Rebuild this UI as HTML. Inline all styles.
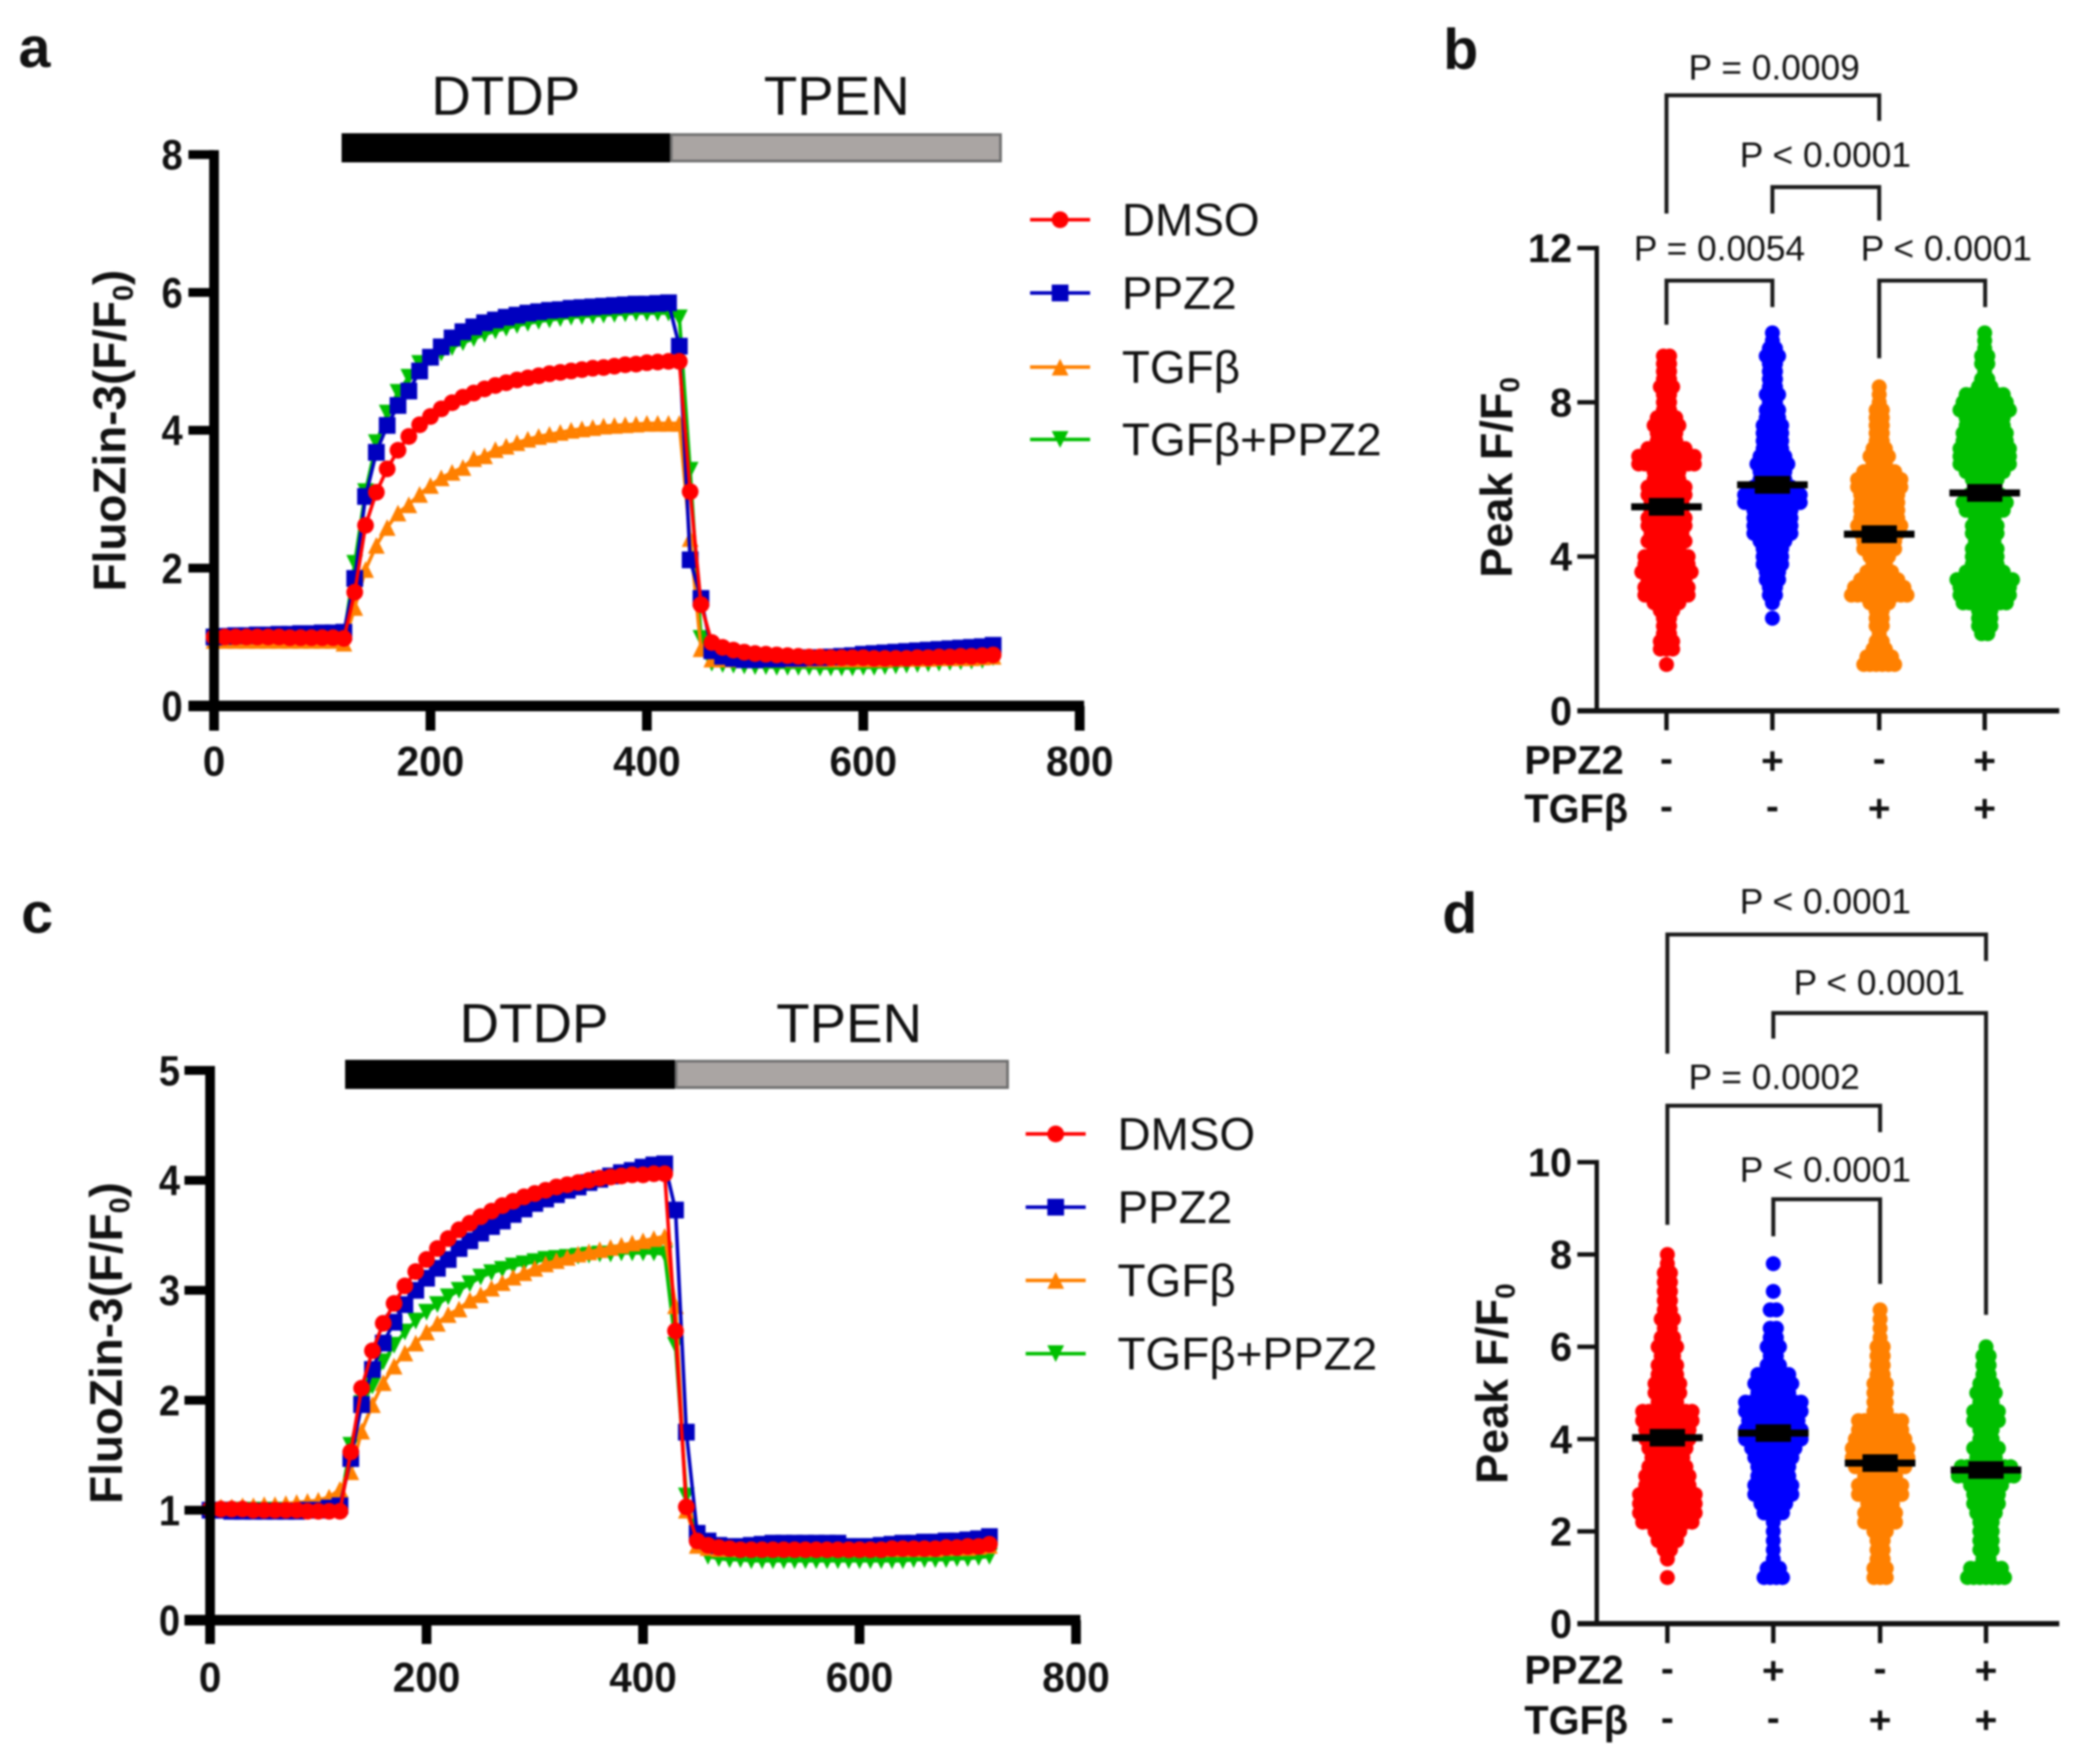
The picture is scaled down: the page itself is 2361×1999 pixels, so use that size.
<!DOCTYPE html>
<html lang="en">
<head>
<meta charset="utf-8">
<title>FluoZin-3 time courses and peak F/F0</title>
<style>
html,body{margin:0;padding:0;background:#fff;width:2361px;height:1999px;overflow:hidden}
#figure{display:block;filter:blur(1px)}
text{font-family:"Liberation Sans",sans-serif;fill:#111}
.b{font-weight:bold}
</style>
</head>
<body>
<svg id="figure" xmlns="http://www.w3.org/2000/svg" width="2361" height="1999" viewBox="0 0 2361 1999"></svg>
<script>
// ---------- shared categories ----------
const timePoints = [0,10,20,30,40,50,60,70,80,90,100,110,120,130,140,150,160,170,180,190,200,210,220,230,240,250,260,270,280,290,300,310,320,330,340,350,360,370,380,390,400,410,420,430,440,450,460,470,480,490,500,510,520,530,540,550,560,570,580,590,600,610,620,630,640,650,660,670,680,690,700,710,720];
const xTickLabels = [0,200,400,600,800];
const yTickLabelsA = [0,2,4,6,8];
const yTickLabelsC = [0,1,2,3,4,5];
const yTickLabelsB = [0,4,8,12];
const yTickLabelsD = [0,2,4,6,8,10];
const seriesNames = ['DMSO','PPZ2','TGFβ','TGFβ+PPZ2'];
const ppz2Signs = ['-','+','-','+'];
const tgfSigns = ['-','-','+','+'];

// ---------- panel a values ----------
const aDmso = [1,1,1,1,1,1,1,.99,.99,.99,.99,.99,.98,1.65,2.62,3.10,3.44,3.71,3.91,4.08,4.20,4.31,4.40,4.48,4.54,4.60,4.65,4.69,4.73,4.76,4.79,4.82,4.84,4.86,4.88,4.90,4.91,4.93,4.95,4.96,4.98,4.99,5.00,5.00,3.11,1.47,.92,.85,.81,.78,.76,.75,.74,.73,.72,.71,.71,.70,.70,.70,.70,.69,.69,.69,.69,.70,.70,.71,.71,.72,.72,.73,.74];
const aPpz2 = [1.00,1.01,1.02,1.02,1.03,1.03,1.04,1.04,1.05,1.05,1.06,1.06,1.07,1.85,3.04,3.68,4.07,4.36,4.57,4.86,5.06,5.21,5.34,5.43,5.50,5.56,5.60,5.64,5.67,5.70,5.72,5.74,5.75,5.77,5.78,5.79,5.80,5.81,5.82,5.83,5.83,5.84,5.85,5.22,2.12,1.56,.80,.72,.69,.67,.67,.68,.68,.69,.69,.70,.70,.71,.72,.73,.75,.76,.77,.78,.79,.80,.81,.82,.83,.84,.85,.86,.88];
const aTgf = [.95,.95,.95,.95,.95,.95,.95,.95,.95,.95,.95,.95,.91,1.43,1.98,2.33,2.59,2.80,2.92,3.07,3.20,3.31,3.39,3.46,3.59,3.63,3.72,3.77,3.82,3.87,3.91,3.94,3.97,4.00,4.02,4.04,4.06,4.07,4.08,4.09,4.10,4.10,4.10,4.10,2.43,.83,.68,.68,.68,.68,.68,.68,.68,.68,.68,.68,.68,.68,.68,.68,.68,.68,.68,.69,.69,.69,.69,.70,.70,.70,.70,.71,.72];
const aTgfPpz2 = [1,1,1.01,1.01,1.01,1.01,1.01,1,1,1,1,1,1,2.07,3.11,3.82,4.25,4.55,4.77,4.97,5.05,5.12,5.20,5.27,5.33,5.39,5.44,5.48,5.52,5.55,5.58,5.60,5.62,5.64,5.65,5.66,5.67,5.68,5.69,5.70,5.70,5.70,5.70,5.63,3.42,.98,.62,.60,.59,.58,.57,.57,.56,.56,.56,.56,.55,.55,.55,.55,.56,.56,.57,.58,.59,.60,.61,.62,.63,.64,.65,.66,.70];

// ---------- panel c values ----------
const cDmso = [1.01,1.01,1.01,1.01,1,1,1,1,1,.99,.99,.99,.99,1.53,2.11,2.45,2.70,2.88,3.04,3.17,3.28,3.38,3.47,3.55,3.61,3.67,3.72,3.77,3.81,3.85,3.88,3.91,3.94,3.96,3.98,4.00,4.02,4.03,4.04,4.05,4.05,4.06,4.06,2.63,1.03,.72,.68,.66,.65,.64,.64,.64,.64,.64,.64,.64,.64,.64,.64,.64,.64,.64,.64,.65,.65,.65,.65,.65,.66,.66,.67,.67,.69];
const cPpz2 = [1,1,.99,.99,.99,.99,.99,.99,.99,1,1,1.02,1.04,1.47,1.96,2.28,2.52,2.71,2.87,3.00,3.11,3.20,3.28,3.38,3.45,3.52,3.58,3.63,3.69,3.74,3.79,3.83,3.87,3.91,3.94,3.98,4.01,4.04,4.07,4.09,4.12,4.14,4.15,3.73,1.71,.79,.72,.68,.67,.67,.68,.69,.70,.70,.70,.70,.70,.70,.70,.67,.67,.67,.68,.69,.70,.70,.71,.71,.72,.72,.73,.74,.76];
const cTgf = [1.02,1.03,1.03,1.04,1.04,1.05,1.05,1.06,1.07,1.08,1.09,1.12,1.19,1.35,1.72,1.96,2.16,2.31,2.43,2.52,2.62,2.70,2.78,2.83,2.91,2.96,3.02,3.07,3.12,3.16,3.20,3.24,3.27,3.30,3.33,3.35,3.37,3.39,3.41,3.43,3.45,3.47,3.49,2.86,1.00,.68,.66,.65,.65,.65,.65,.65,.65,.65,.65,.65,.65,.65,.65,.65,.65,.65,.65,.65,.65,.65,.65,.65,.66,.66,.66,.67,.68];
const cTgfPpz2 = [1,1,1,1,1,1,1,1,1,1,1,1.02,1.05,1.59,1.97,2.13,2.35,2.50,2.62,2.72,2.80,2.87,2.94,3.00,3.06,3.12,3.16,3.19,3.22,3.24,3.26,3.28,3.29,3.30,3.31,3.32,3.33,3.33,3.34,3.34,3.34,3.34,3.33,2.50,1.13,.75,.58,.56,.55,.55,.54,.54,.54,.54,.54,.54,.54,.54,.54,.54,.54,.54,.54,.54,.54,.55,.55,.55,.55,.56,.56,.57,.58];

// ---------- panel b values: peak level and number of cells at that level ----------
const bLevels = [9.8,9.6,9.4,9.2,9.0,8.8,8.6,8.4,8.2,8.0,7.8,7.6,7.4,7.2,7.0,6.8,6.6,6.4,6.2,6.0,5.8,5.6,5.4,5.2,5.0,4.8,4.6,4.4,4.2,4.0,3.8,3.6,3.4,3.2,3.0,2.8,2.6,2.4,2.2,2.0,1.8,1.6,1.4,1.2];
const bCountsDmso = [0,0,0,2,2,2,2,3,2,2,2,4,5,4,4,7,10,10,5,5,7,7,6,6,7,7,6,7,5,8,8,9,7,8,8,5,3,2,2,2,3,3,0,1];
const bCountsPpz2 = [1,1,2,3,2,2,2,2,3,2,3,3,4,4,4,4,5,6,5,5,7,10,10,7,7,7,7,5,4,4,4,3,3,2,2,1,0,1,0,0,0,0,0,0];
const bCountsTgf = [0,0,0,0,0,0,0,1,1,1,2,2,2,2,2,3,4,3,6,8,8,7,7,7,7,8,7,6,6,4,3,5,7,9,10,4,2,2,2,1,2,3,5,6];
const bCountsTgfPpz2 = [1,1,1,2,2,1,2,3,7,8,9,7,7,8,8,9,9,9,7,5,4,6,8,7,4,5,5,4,5,5,5,7,10,9,9,8,3,3,3,2,0,0,0,0];
const bMeans = [5.29,5.86,4.58,5.65];
const bSems = [0.23,0.23,0.23,0.23];

// ---------- panel d values ----------
const dLevels = [8.0,7.8,7.6,7.4,7.2,7.0,6.8,6.6,6.4,6.2,6.0,5.8,5.6,5.4,5.2,5.0,4.8,4.6,4.4,4.2,4.0,3.8,3.6,3.4,3.2,3.0,2.8,2.6,2.4,2.2,2.0,1.8,1.6,1.4,1.2,1.0];
const dCountsDmso = [1,1,2,2,2,2,2,3,2,3,4,3,4,4,5,5,4,9,9,8,8,7,6,7,8,8,10,10,10,9,5,4,2,1,0,1];
const dCountsPpz2 = [0,1,0,0,1,0,2,0,2,2,3,2,3,6,7,6,10,10,9,10,10,8,7,6,6,7,7,5,4,1,1,1,1,1,3,4];
const dCountsTgf = [0,0,0,0,0,0,1,1,1,1,2,2,2,2,3,3,3,3,8,8,9,10,10,9,6,8,8,5,6,6,3,2,2,2,3,3];
const dCountsTgfPpz2 = [0,0,0,0,0,0,0,0,0,0,1,2,2,2,3,4,3,5,5,3,3,5,4,9,10,6,5,5,4,3,3,3,3,2,6,7];
const dMeans = [4.03,4.13,3.48,3.33];
const dSems = [0.19,0.19,0.19,0.19];

// ---------- drawing helpers ----------
const svg = document.getElementById('figure');
const NS = 'http://www.w3.org/2000/svg';

function add(tag, name, interactable, attrs, parent) {
  const el = document.createElementNS(NS, tag);
  
  
  for (const k in attrs) el.setAttribute(k, attrs[k]);
  (parent || svg).appendChild(el);
  return el;
}
function label(name, str, x, y, size, anchor, bold, parent) {
  const el = add('text', name, 'false', {x: x, y: y, 'font-size': size, 'text-anchor': anchor || 'start'}, parent);
  if (bold) el.setAttribute('class', 'b');
  el.textContent = str;
  return el;
}
function rotatedTitle(name, main, sub, x, y, size) {
  const el = add('text', name, 'false', {transform: 'translate(' + x + ',' + y + ') rotate(-90)', 'font-size': size, 'text-anchor': 'middle', 'class': 'b'});
  const a = document.createElementNS(NS, 'tspan');
  a.textContent = main;
  el.appendChild(a);
  const s = document.createElementNS(NS, 'tspan');
  s.setAttribute('font-size', size * 0.62);
  s.setAttribute('dy', size * 0.16);
  s.textContent = sub[0];
  el.appendChild(s);
  if (sub[1]) {
    const c = document.createElementNS(NS, 'tspan');
    c.setAttribute('dy', -size * 0.16);
    c.textContent = sub[1];
    el.appendChild(c);
  }
  return el;
}
function marker(kind, name, cx, cy, color, parent) {
  const s = 9.5;
  if (kind === 'circle') return add('circle', name, 'false', {cx: cx, cy: cy, r: s, fill: color}, parent);
  if (kind === 'square') return add('rect', name, 'false', {x: cx - s, y: cy - s, width: 2 * s, height: 2 * s, fill: color}, parent);
  if (kind === 'up') return add('polygon', name, 'false', {points: (cx - s) + ',' + (cy + s) + ' ' + (cx + s) + ',' + (cy + s) + ' ' + cx + ',' + (cy - s), fill: color}, parent);
  return add('polygon', name, 'false', {points: (cx - s) + ',' + (cy - s) + ' ' + (cx + s) + ',' + (cy - s) + ' ' + cx + ',' + (cy + s), fill: color}, parent);
}

// ---------- time course panels ----------
function timeCourse(cfg) {
  const xAt = function (t) { return cfg.x0 + (t - 0) * cfg.pxPerSec; };
  const yAt = function (v) { return cfg.y0 - v * cfg.pxPerUnit; };
  const g = add('g', cfg.id + '-time-course-chart', 'false', {});

  add('rect', cfg.id + '-dtdp-bar', 'false', {x: cfg.barX0, y: cfg.barY, width: cfg.barX1 - cfg.barX0, height: 33, fill: '#000'}, g);
  add('rect', cfg.id + '-tpen-bar', 'false', {x: cfg.barX1 + 1.5, y: cfg.barY + 1.5, width: cfg.barX2 - cfg.barX1 - 3, height: 30, fill: '#aaa5a3', stroke: '#6e6e6e', 'stroke-width': 3}, g);
  label(cfg.id + '-dtdp-label', 'DTDP', cfg.dtdpX, cfg.labelY, 62, 'middle', false, g);
  label(cfg.id + '-tpen-label', 'TPEN', cfg.tpenX, cfg.labelY, 62, 'middle', false, g);

  // series, back to front
  const order = [3, 2, 1, 0];
  order.forEach(function (i) {
    const s = cfg.series[i];
    const pts = timePoints.map(function (t, k) { return xAt(t) + ',' + yAt(s.values[k]); }).join(' ');
    const sg = add('g', cfg.id + '-series-' + s.slug, 'false', {}, g);
    add('polyline', cfg.id + '-line-' + s.slug, 'false', {points: pts, fill: 'none', stroke: s.color, 'stroke-width': 4, 'stroke-linejoin': 'round'}, sg);
    timePoints.forEach(function (t, k) {
      marker(s.kind, s.slug + '-point', xAt(t), yAt(s.values[k]), s.color, sg);
    });
  });

  // axes
  const axis = add('g', cfg.id + '-axes', 'false', {fill: '#000'}, g);
  const tickTop = yAt(cfg.yTicks[cfg.yTicks.length - 1]);
  add('rect', cfg.id + '-y-axis', 'false', {x: cfg.x0 - 5.5, y: tickTop - 5, width: 11, height: cfg.tickBottom - tickTop + 5}, axis);
  add('rect', cfg.id + '-x-axis', 'false', {x: cfg.x0 - 29, y: cfg.y0 - 6, width: xAt(800) - cfg.x0 + 34, height: 12}, axis);
  cfg.yTicks.forEach(function (v) {
    add('rect', cfg.id + '-y-tick', 'false', {x: cfg.x0 - 29, y: yAt(v) - 5, width: 29, height: 10}, axis);
    const t = label(cfg.id + '-y-tick-label', String(v), cfg.yLabelX, yAt(v) + 17, 48, 'end', true, g);
    t.setAttribute('textLength', 24);
    t.setAttribute('lengthAdjust', 'spacingAndGlyphs');
  });
  xTickLabels.forEach(function (v) {
    add('rect', cfg.id + '-x-tick', 'false', {x: xAt(v) - 5.5, y: cfg.y0, width: 11, height: cfg.tickBottom - cfg.y0}, axis);
    const t = label(cfg.id + '-x-tick-label', String(v), xAt(v), cfg.xLabelY, 47, 'middle', true, g);
    t.setAttribute('textLength', String(v).length * 25.5);
    t.setAttribute('lengthAdjust', 'spacingAndGlyphs');
  });
  rotatedTitle(cfg.id + '-y-axis-title', 'FluoZin-3(F/F', ['0', ')'], cfg.titleX, cfg.titleY, 52);

  // legend
  cfg.series.forEach(function (s, i) {
    const ly = cfg.legendY[i];
    const lg = add('g', 'legend-entry-' + s.slug, 'false', {}, g);
    add('line', 'legend-line-' + s.slug, 'false', {x1: cfg.legendX - 34, x2: cfg.legendX + 34, y1: ly, y2: ly, stroke: s.color, 'stroke-width': 4}, lg);
    marker(s.kind, 'legend-marker-' + s.slug, cfg.legendX, ly, s.color, lg);
    label('legend-label-' + s.slug, seriesNames[i], cfg.legendX + 70, ly + 18, 52, 'start', false, lg);
  });
}

// ---------- swarm panels ----------
function swarm(cfg) {
  const yAt = function (v) { return cfg.y0 - v * cfg.pxPerUnit; };
  const g = add('g', cfg.id + '-swarm-chart', 'false', {});
  const r = 8.5, spacing = 7;

  cfg.groups.forEach(function (grp, i) {
    const cx = cfg.centers[i];
    const gg = add('g', cfg.id + '-group-' + grp.slug, 'false', {}, g);
    cfg.levels.forEach(function (lv, k) {
      const n = grp.counts[k];
      for (let j = 0; j < n; j++) {
        add('circle', grp.slug + '-cell-point', 'false', {cx: cx + (j - (n - 1) / 2) * spacing, cy: yAt(lv), r: r, fill: grp.color}, gg);
      }
    });
  });
  cfg.groups.forEach(function (grp, i) {
    const cx = cfg.centers[i];
    const m = cfg.means[i], e = cfg.sems[i];
    add('rect', grp.slug + '-mean-line', 'false', {x: cx - 40, y: yAt(m) - 4, width: 80, height: 8, fill: '#000'}, g);
    add('rect', grp.slug + '-sem-box', 'false', {x: cx - 20, y: yAt(m + e), width: 40, height: yAt(m - e) - yAt(m + e), fill: '#000'}, g);
  });

  // axes
  const top = yAt(cfg.yTicks[cfg.yTicks.length - 1]);
  add('rect', cfg.id + '-y-axis', 'false', {x: 1806.5, y: top - 2.5, width: 5, height: cfg.y0 - top + 5, fill: '#111'}, g);
  add('rect', cfg.id + '-x-axis', 'false', {x: 1787, y: cfg.y0 - 3, width: 2333 - 1787, height: 6, fill: '#111'}, g);
  cfg.yTicks.forEach(function (v) {
    add('rect', cfg.id + '-y-tick', 'false', {x: 1787, y: yAt(v) - 2.5, width: 22, height: 5, fill: '#111'}, g);
    label(cfg.id + '-y-tick-label', String(v), 1781, yAt(v) + 16, 45, 'end', true, g);
  });
  cfg.centers.forEach(function (cx, i) {
    add('rect', cfg.id + '-x-tick', 'false', {x: cx - 2.5, y: cfg.y0, width: 5, height: cfg.tickLen, fill: '#111'}, g);
    const sa = ppz2Signs[i], sb = tgfSigns[i];
    label(cfg.id + '-ppz2-sign', sa, cx, cfg.row1 + (sa === '+' ? 15 : 12), 44, 'middle', true, g);
    label(cfg.id + '-tgf-sign', sb, cx, cfg.row2 + (sb === '+' ? 15 : 12), 44, 'middle', true, g);
  });
  label(cfg.id + '-ppz2-row-label', 'PPZ2', 1727, cfg.row1 + 15, 45, 'start', true, g);
  label(cfg.id + '-tgf-row-label', 'TGFβ', 1727, cfg.row2 + 16, 45, 'start', true, g);
  rotatedTitle(cfg.id + '-y-axis-title', 'Peak F/F', ['0'], cfg.titleX, cfg.titleY, 51);

  // comparison brackets
  cfg.brackets.forEach(function (b) {
    add('polyline', cfg.id + '-significance-bracket', 'false', {points: b.x1 + ',' + b.yL + ' ' + b.x1 + ',' + b.top + ' ' + b.x2 + ',' + b.top + ' ' + b.x2 + ',' + b.yR, fill: 'none', stroke: '#1a1a1a', 'stroke-width': 4.5}, g);
    label(cfg.id + '-p-value', b.text, b.tx, b.ty, 40, 'middle', false, g);
  });
}

timeCourse({
  id: 'panel-a', x0: 242.5, y0: 800, pxPerSec: 1.2259, pxPerUnit: 78.1,
  yTicks: yTickLabelsA, yLabelX: 207, xLabelY: 879, tickBottom: 828,
  barX0: 387, barX1: 759, barX2: 1135, barY: 151, dtdpX: 573, tpenX: 948, labelY: 130,
  titleX: 142, titleY: 488,
  legendX: 1201, legendY: [249, 332, 416, 498],
  series: [
    {slug: 'dmso', values: aDmso, color: '#ff0000', kind: 'circle'},
    {slug: 'ppz2', values: aPpz2, color: '#0000bf', kind: 'square'},
    {slug: 'tgf', values: aTgf, color: '#ff8000', kind: 'up'},
    {slug: 'tgf-ppz2', values: aTgfPpz2, color: '#00bf00', kind: 'down'}
  ]
});

timeCourse({
  id: 'panel-c', x0: 238, y0: 1836, pxPerSec: 1.2263, pxPerUnit: 124.6,
  yTicks: yTickLabelsC, yLabelX: 204, xLabelY: 1917, tickBottom: 1863,
  barX0: 391, barX1: 764.5, barX2: 1143, barY: 1201, dtdpX: 605, tpenX: 962, labelY: 1181,
  titleX: 138, titleY: 1522,
  legendX: 1196, legendY: [1285, 1368, 1451, 1534],
  series: [
    {slug: 'dmso', values: cDmso, color: '#ff0000', kind: 'circle'},
    {slug: 'ppz2', values: cPpz2, color: '#0000bf', kind: 'square'},
    {slug: 'tgf', values: cTgf, color: '#ff8000', kind: 'up'},
    {slug: 'tgf-ppz2', values: cTgfPpz2, color: '#00bf00', kind: 'down'}
  ]
});

swarm({
  id: 'panel-b', y0: 805.5, pxPerUnit: 43.7, yTicks: yTickLabelsB, tickLen: 22,
  centers: [1888, 2008, 2129, 2248.5], levels: bLevels, means: bMeans, sems: bSems,
  row1: 862, row2: 916, titleX: 1713, titleY: 541,
  groups: [
    {slug: 'dmso', counts: bCountsDmso, color: '#ff0000'},
    {slug: 'ppz2', counts: bCountsPpz2, color: '#0000ff'},
    {slug: 'tgf', counts: bCountsTgf, color: '#ff8000'},
    {slug: 'tgf-ppz2', counts: bCountsTgfPpz2, color: '#00bf00'}
  ],
  brackets: [
    {x1: 1888, x2: 2129, top: 108, yL: 242, yR: 137, text: 'P = 0.0009', tx: 2010, ty: 90},
    {x1: 2008, x2: 2129, top: 212, yL: 242, yR: 250, text: 'P < 0.0001', tx: 2068, ty: 189},
    {x1: 1888, x2: 2008, top: 318, yL: 368, yR: 348, text: 'P = 0.0054', tx: 1948, ty: 295},
    {x1: 2129, x2: 2249, top: 318, yL: 406, yR: 348, text: 'P < 0.0001', tx: 2205, ty: 295}
  ]
});

swarm({
  id: 'panel-d', y0: 1840, pxPerUnit: 52.3, yTicks: yTickLabelsD, tickLen: 22,
  centers: [1889, 2009, 2130, 2250], levels: dLevels, means: dMeans, sems: dSems,
  row1: 1893, row2: 1949, titleX: 1708, titleY: 1568,
  groups: [
    {slug: 'dmso', counts: dCountsDmso, color: '#ff0000'},
    {slug: 'ppz2', counts: dCountsPpz2, color: '#0000ff'},
    {slug: 'tgf', counts: dCountsTgf, color: '#ff8000'},
    {slug: 'tgf-ppz2', counts: dCountsTgfPpz2, color: '#00bf00'}
  ],
  brackets: [
    {x1: 1889, x2: 2250, top: 1059, yL: 1194, yR: 1089, text: 'P < 0.0001', tx: 2068, ty: 1035},
    {x1: 2009, x2: 2250, top: 1148, yL: 1177, yR: 1490, text: 'P < 0.0001', tx: 2129, ty: 1127},
    {x1: 1889, x2: 2130, top: 1253, yL: 1388, yR: 1283, text: 'P = 0.0002', tx: 2010, ty: 1234},
    {x1: 2009, x2: 2130, top: 1359, yL: 1401, yR: 1455, text: 'P < 0.0001', tx: 2068, ty: 1339}
  ]
});

label('panel-letter-a', 'a', 21, 76, 65, 'start', true);
label('panel-letter-b', 'b', 1635, 78, 65, 'start', true);
label('panel-letter-c', 'c', 24, 1057, 65, 'start', true);
label('panel-letter-d', 'd', 1634, 1057, 65, 'start', true);
</script>
</body>
</html>
